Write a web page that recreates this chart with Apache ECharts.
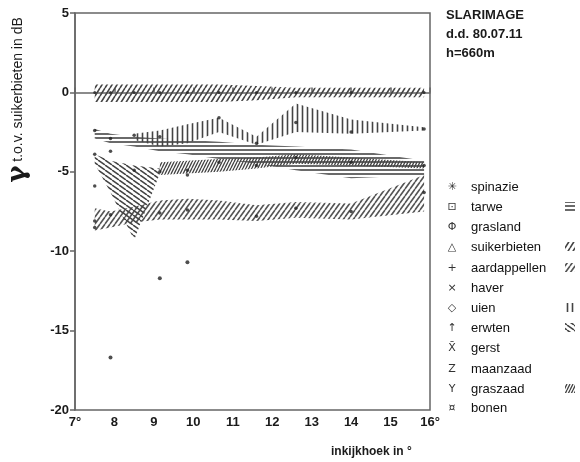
<!DOCTYPE html>
<html>
<head>
<meta charset="utf-8">
<script src="https://cdn.jsdelivr.net/npm/echarts@6/dist/echarts.min.js"></script>
<style>html,body{margin:0;padding:0;background:#fff}#c{width:580px;height:462px}</style>
</head>
<body>
<div id="c"></div>
<script>
// ---- data ----
const angles = [7.5, 7.9, 8.5, 9.15, 9.85, 10.65, 11.6, 12.6, 14.0, 15.85];
const xTicks = [7, 8, 9, 10, 11, 12, 13, 14, 15, 16];
const yTicks = [-20, -15, -10, -5, 0, 5];

const suikerUpper = [0.5, 0.5, 0.5, 0.5, 0.5, 0.5, 0.4, 0.3, 0.3, 0.3];
const suikerLower = [-0.6, -0.6, -0.6, -0.6, -0.6, -0.6, -0.5, -0.3, -0.3, -0.3];
const uienUpper = [null, null, -2.6, -2.4, -2.0, -1.6, -2.8, -0.7, -1.7, -2.2];
const uienLower = [null, null, -3.0, -3.4, -3.2, -2.5, -3.3, -2.5, -2.6, -2.4];
const tarweUpper = [-2.3, -2.6, -2.8, -2.9, -3.0, -3.1, -3.3, -3.4, -3.6, -4.3];
const tarweLower = [-2.9, -3.2, -3.4, -3.7, -3.9, -4.2, -4.5, -4.9, -5.4, -5.2];
const erwtenUpper = [-3.9, -4.3, -4.6, -4.8, null, null, null, null, null, null];
const erwtenLower = [-4.5, -6.3, -9.3, -5.1, null, null, null, null, null, null];
const graszaadUpper = [null, null, null, -4.4, -4.3, -4.2, -4.1, -3.9, -4.1, -4.4];
const graszaadLower = [null, null, null, -5.2, -5.1, -5.0, -4.8, -4.5, -4.6, -4.8];
const aardUpper = [-7.3, -7.5, -7.2, -6.8, -6.7, -6.8, -7.1, -6.9, -7.0, -5.2];
const aardLower = [-8.7, -8.5, -8.2, -8.0, -8.0, -8.0, -8.1, -7.9, -8.0, -7.5];

const spinX = [7.9, 9.15, 9.85];
const spinY = [-16.7, -11.7, -10.7];
const markX = [7.5,7.5,7.5,7.5,7.5, 7.9,7.9,7.9, 8.5,8.5, 9.15,9.15,9.15, 9.85,9.85,9.85, 10.65,10.65, 11.6,11.6,11.6, 12.6,12.6,12.6, 14.0,14.0,14.0, 15.85,15.85,15.85];
const markY = [-2.4,-3.9,-5.9,-8.1,-8.5, -2.9,-3.7,-7.7, -2.7,-4.9, -2.8,-5.0,-7.6, -4.9,-5.2,-7.4, -1.6,-4.4, -3.2,-4.6,-7.8, -1.9,-4.1,-7.3, -2.5,-4.4,-7.5, -2.3,-4.6,-6.3];

const legendNames = ['spinazie','tarwe','grasland','suikerbieten','aardappellen','haver','uien','erwten','gerst','maanzaad','graszaad','bonen'];
const legendSymbols = ['✳','⊡','Φ','△','+','×','◇','↑','X̄','Z','Y','¤'];
const titleLines = ['SLARIMAGE','d.d. 80.07.11','h=660m'];

// ---- patterns ----
function hatch(type, w, h, lw, color) {
  const c = document.createElement('canvas');
  c.width = w; c.height = h;
  const ctx = c.getContext('2d');
  ctx.strokeStyle = color; ctx.lineWidth = lw;
  ctx.beginPath();
  if (type === '/') {
    for (let k = -1; k <= 1; k++) { ctx.moveTo(k*w, h); ctx.lineTo((k+1)*w, 0); }
  } else if (type === '\\') {
    for (let k = -1; k <= 1; k++) { ctx.moveTo(k*w, 0); ctx.lineTo((k+1)*w, h); }
  } else if (type === '|') {
    ctx.moveTo(w/2, 0); ctx.lineTo(w/2, h);
  } else if (type === '-') {
    ctx.moveTo(0, h/2); ctx.lineTo(w, h/2);
  }
  ctx.stroke();
  return {image: c, repeat: 'repeat'};
}
const patSuiker = hatch('/', 5, 8, 1.6, '#444');
const patUien = hatch('|', 5, 5, 1.6, '#444');
const patTarwe = hatch('-', 6, 4, 1.6, '#444');
const patErwten = hatch('\\', 7, 5, 1.5, '#444');
const patGraszaad = hatch('/', 3, 6, 1.3, '#444');
const patAard = hatch('/', 5, 7, 1.6, '#555');

const bands = [
  {name: 'suikerbieten', up: suikerUpper, lo: suikerLower, fill: patSuiker},
  {name: 'aardappellen', up: aardUpper, lo: aardLower, fill: patAard},
  {name: 'erwten', up: erwtenUpper, lo: erwtenLower, fill: patErwten},
  {name: 'tarwe', up: tarweUpper, lo: tarweLower, fill: patTarwe},
  {name: 'graszaad', up: graszaadUpper, lo: graszaadLower, fill: patGraszaad},
  {name: 'uien', up: uienUpper, lo: uienLower, fill: patUien}
];

function bandSeries(b) {
  const data = [];
  angles.forEach((a, i) => { if (b.up[i] != null) data.push([a, b.up[i], b.lo[i]]); });
  return {
    type: 'custom', name: b.name, data: data,
    encode: {x: 0, y: [1, 2]},
    silent: true,
    renderItem: function (params, api) {
      if (params.dataIndexInside !== 0) return;
      const n = params.dataInsideLength;
      const top = [], bot = [];
      for (let k = 0; k < n; k++) {
        top.push(api.coord([api.value(0, k), api.value(1, k)]));
        bot.push(api.coord([api.value(0, k), api.value(2, k)]));
      }
      return {type: 'polygon', shape: {points: top.concat(bot.reverse())}, style: {fill: b.fill, stroke: null}};
    }
  };
}

const font = '"Liberation Sans", Arial, sans-serif';
const graphics = [];
titleLines.forEach((t, i) => graphics.push({type: 'text', left: 446, top: 9 + i*19, style: {text: t, font: 'bold 13px ' + font, fill: '#1a1a1a'}}));
const rowY = [187,207,227,247,268,288,308,328,348,369,389,408];
legendNames.forEach((nm, i) => {
  graphics.push({type: 'text', x: 452, y: rowY[i], style: {text: legendSymbols[i], font: '11px "DejaVu Sans", sans-serif', fill: '#333', align: 'center', verticalAlign: 'middle'}});
  graphics.push({type: 'text', x: 471, y: rowY[i], style: {text: nm, font: '13px ' + font, fill: '#111', verticalAlign: 'middle'}});
});
const swatches = {tarwe: patTarwe, suikerbieten: patSuiker, aardappellen: patAard, uien: patUien, erwten: patErwten, graszaad: patGraszaad};
legendNames.forEach((nm, i) => {
  if (swatches[nm]) graphics.push({type: 'rect', shape: {x: 565, y: rowY[i] - 5, width: 10, height: 9}, style: {fill: swatches[nm]}});
});
graphics.push({type: 'text', x: 18, y: 100, rotation: Math.PI/2,
  style: {text: '{g|γ} t.o.v. suikerbieten in dB', align: 'center', verticalAlign: 'middle',
    font: '14px ' + font, fill: '#1a1a1a',
    rich: {g: {fontSize: 26, fontWeight: 'bold', fontFamily: 'DejaVu Serif', fill: '#1a1a1a'}}}});
graphics.push({type: 'text', left: 331, top: 446, style: {text: 'inkijkhoek in °', font: 'bold 12px ' + font, fill: '#1a1a1a'}});

const chart = echarts.init(document.getElementById('c'), null, {renderer: 'canvas'});
chart.setOption({
  animation: false,
  backgroundColor: '#fff',
  grid: {left: 75, right: 150, top: 13, bottom: 52, show: true, borderColor: '#666', borderWidth: 1.5, backgroundColor: 'transparent'},
  xAxis: {type: 'value', min: xTicks[0], max: xTicks[xTicks.length-1], interval: 1,
    axisLine: {lineStyle: {color: '#666', width: 1.5}},
    axisTick: {inside: true, length: 5, lineStyle: {color: '#666', width: 1.5}},
    axisLabel: {color: '#1a1a1a', fontFamily: font, fontWeight: 'bold', fontSize: 13, margin: 6,
      formatter: v => (v === xTicks[0] || v === xTicks[xTicks.length-1]) ? v + '°' : String(v)},
    splitLine: {show: false}},
  yAxis: {type: 'value', min: yTicks[0], max: yTicks[yTicks.length-1], interval: 5,
    axisLine: {lineStyle: {color: '#666', width: 1.5}},
    axisTick: {length: 5, lineStyle: {color: '#666', width: 1.5}},
    axisLabel: {color: '#1a1a1a', fontFamily: font, fontWeight: 'bold', fontSize: 13, margin: 6},
    splitLine: {show: false}},
  graphic: graphics,
  series: bands.map(bandSeries).concat([
    {type: 'scatter', name: 'zero', data: angles.map(a => [a, 0]), symbol: 'circle', symbolSize: 3, itemStyle: {color: '#222'}, silent: true},
    {type: 'scatter', name: 'marks', data: markX.map((x, i) => [x, markY[i]]), symbol: 'circle', symbolSize: 3.5, itemStyle: {color: '#222'}, silent: true},
    {type: 'scatter', name: 'spinazie', data: spinX.map((x, i) => [x, spinY[i]]), symbol: 'circle', symbolSize: 4, itemStyle: {color: '#222'}, silent: true}
  ])
});
</script>
</body>
</html>
